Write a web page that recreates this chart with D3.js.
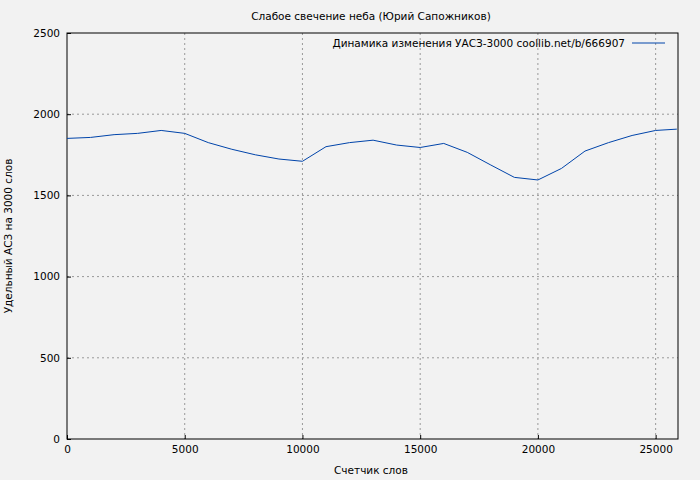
<!DOCTYPE html>
<html>
<head>
<meta charset="utf-8">
<script src="https://cdnjs.cloudflare.com/ajax/libs/d3/7.8.5/d3.min.js"></script>
<style>
  html, body { margin: 0; padding: 0; background: #f2f2f2; }
  svg { display: block; }
  text { font-family: "DejaVu Sans", sans-serif; font-size: 10.5px; fill: #000; }
</style>
</head>
<body>
<svg id="chart" width="700" height="480"></svg>
<script>
var words = [0,1000,2000,3000,4000,5000,6000,7000,8000,9000,10000,11000,12000,13000,
  14000,15000,16000,17000,18000,19000,20000,21000,22000,23000,24000,25000,25900];
var values = [1851,1857,1874,1882,1900,1882,1825,1784,1750,1724,1710,1800,1825,1840,
  1810,1795,1820,1765,1687,1611,1595,1666,1773,1825,1869,1900,1908];
var xTicks = [0,5000,10000,15000,20000,25000];
var yTicks = [0,500,1000,1500,2000,2500];
var title = "Слабое свечение неба (Юрий Сапожников)";
var legendLabel = "Динамика изменения УАСЗ-3000 coollib.net/b/666907";

var svg = d3.select("#chart");
var m = {left: 67, right: 22, top: 33, bottom: 41};
var w = 700 - m.left - m.right, h = 480 - m.top - m.bottom;
var x = d3.scaleLinear().domain([0, 25950]).range([0, w]);
var y = d3.scaleLinear().domain([0, 2500]).range([h, 0]);
var g = svg.append("g").attr("transform", "translate(" + m.left + "," + m.top + ")");

g.selectAll(".gx").data(xTicks.slice(1)).enter().append("line")
  .attr("x1", d => x(d)).attr("x2", d => x(d)).attr("y1", 0).attr("y2", h)
  .attr("stroke", "#999").attr("stroke-dasharray", "2,3");
g.selectAll(".gy").data(yTicks.slice(1, -1)).enter().append("line")
  .attr("x1", 0).attr("x2", w).attr("y1", d => y(d)).attr("y2", d => y(d))
  .attr("stroke", "#999").attr("stroke-dasharray", "2,3");

g.append("rect").attr("width", w).attr("height", h).attr("fill", "none").attr("stroke", "#000");

var xa = g.append("g").attr("transform", "translate(0," + h + ")")
  .call(d3.axisBottom(x).tickValues(xTicks).tickSize(4).tickFormat(d3.format("d")));
var ya = g.append("g").call(d3.axisLeft(y).tickValues(yTicks).tickSize(4).tickFormat(d3.format("d")));
[xa, ya].forEach(a => { a.select(".domain").remove(); a.selectAll("text").style("font-size", "10.5px").style("font-family", "DejaVu Sans, sans-serif"); });
xa.selectAll(".tick line").attr("y2", -4);
ya.selectAll(".tick line").attr("x2", 4);

g.append("path").datum(words.map((d, i) => [d, values[i]]))
  .attr("fill", "none").attr("stroke", "#0044aa").attr("stroke-width", 1)
  .attr("d", d3.line().x(d => x(d[0])).y(d => y(d[1])));

svg.append("text").attr("x", 371).attr("y", 20).attr("text-anchor", "middle").text(title);
svg.append("text").attr("x", 371).attr("y", 474).attr("text-anchor", "middle").text("Счетчик слов");
svg.append("text").attr("transform", "translate(12,236) rotate(-90)").attr("text-anchor", "middle").text("Удельный АСЗ на 3000 слов");

svg.append("text").attr("x", 625).attr("y", 47).attr("text-anchor", "end").text(legendLabel);
svg.append("line").attr("x1", 632).attr("x2", 665).attr("y1", 43).attr("y2", 43).attr("stroke", "#0044aa");
</script>
</body>
</html>
